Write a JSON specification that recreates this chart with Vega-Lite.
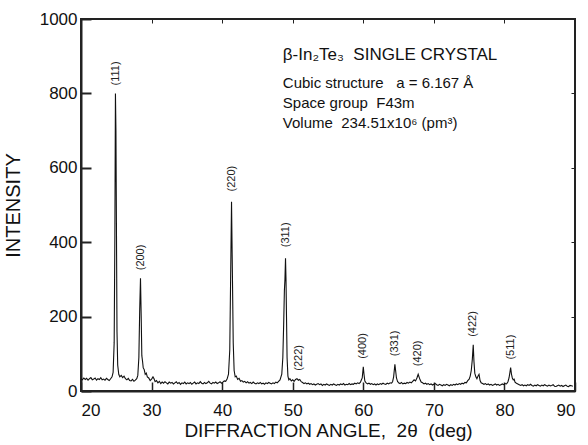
{
  "$schema": "https://vega.github.io/schema/vega-lite/v6.json",
  "width": 494,
  "height": 372,
  "autosize": "none",
  "padding": {"left": 81, "top": 19, "right": 13, "bottom": 54},
  "background": "white",
  "config": {
    "font": "Liberation Sans",
    "view": {"stroke": "#222", "strokeWidth": 2},
    "axis": {"grid": false, "domainColor": "#222", "domainWidth": 2, "tickColor": "#222", "labelColor": "#111", "titleColor": "#111", "titleFontWeight": "normal", "labelFont": "Liberation Sans", "titleFont": "Liberation Sans"}
  },
  "datasets": {
    "pattern": [
      {"angle":20.0,"intensity":33},{"angle":20.2,"intensity":30},{"angle":20.4,"intensity":35},{"angle":20.6,"intensity":31},{"angle":20.8,"intensity":34},{"angle":21.0,"intensity":29},{"angle":21.2,"intensity":33},{"angle":21.4,"intensity":36},{"angle":21.6,"intensity":30},{"angle":21.8,"intensity":32},{"angle":22.0,"intensity":35},{"angle":22.2,"intensity":29},{"angle":22.4,"intensity":33},{"angle":22.6,"intensity":31},{"angle":22.8,"intensity":36},{"angle":23.0,"intensity":30},{"angle":23.2,"intensity":32},{"angle":23.4,"intensity":29},{"angle":23.6,"intensity":34},{"angle":23.8,"intensity":31},{"angle":24.0,"intensity":28},{"angle":24.2,"intensity":33},{"angle":24.4,"intensity":38},{"angle":24.55,"intensity":50},{"angle":24.7,"intensity":130},{"angle":24.8,"intensity":420},{"angle":24.88,"intensity":800},{"angle":24.95,"intensity":700},{"angle":25.02,"intensity":450},{"angle":25.1,"intensity":160},{"angle":25.2,"intensity":70},{"angle":25.35,"intensity":45},{"angle":25.5,"intensity":38},{"angle":25.7,"intensity":42},{"angle":25.9,"intensity":36},{"angle":26.1,"intensity":40},{"angle":26.3,"intensity":33},{"angle":26.5,"intensity":30},{"angle":26.7,"intensity":34},{"angle":26.9,"intensity":28},{"angle":27.1,"intensity":27},{"angle":27.3,"intensity":31},{"angle":27.5,"intensity":26},{"angle":27.7,"intensity":29},{"angle":27.9,"intensity":33},{"angle":28.05,"intensity":42},{"angle":28.2,"intensity":90},{"angle":28.32,"intensity":220},{"angle":28.43,"intensity":303},{"angle":28.53,"intensity":200},{"angle":28.62,"intensity":95},{"angle":28.72,"intensity":80},{"angle":28.82,"intensity":62},{"angle":28.95,"intensity":58},{"angle":29.1,"intensity":45},{"angle":29.25,"intensity":48},{"angle":29.4,"intensity":38},{"angle":29.6,"intensity":35},{"angle":29.8,"intensity":28},{"angle":30.0,"intensity":32},{"angle":30.2,"intensity":38},{"angle":30.35,"intensity":33},{"angle":30.5,"intensity":25},{"angle":30.7,"intensity":28},{"angle":30.9,"intensity":22},{"angle":31.1,"intensity":26},{"angle":31.3,"intensity":20},{"angle":31.5,"intensity":24},{"angle":31.7,"intensity":21},{"angle":31.9,"intensity":25},{"angle":32.1,"intensity":22},{"angle":32.3,"intensity":19},{"angle":32.5,"intensity":24},{"angle":32.7,"intensity":21},{"angle":32.9,"intensity":23},{"angle":33.1,"intensity":19},{"angle":33.3,"intensity":22},{"angle":33.5,"intensity":25},{"angle":33.7,"intensity":20},{"angle":33.9,"intensity":23},{"angle":34.1,"intensity":18},{"angle":34.3,"intensity":22},{"angle":34.5,"intensity":20},{"angle":34.7,"intensity":24},{"angle":34.9,"intensity":19},{"angle":35.1,"intensity":22},{"angle":35.3,"intensity":20},{"angle":35.5,"intensity":23},{"angle":35.7,"intensity":18},{"angle":35.9,"intensity":21},{"angle":36.1,"intensity":24},{"angle":36.3,"intensity":19},{"angle":36.5,"intensity":22},{"angle":36.7,"intensity":20},{"angle":36.9,"intensity":25},{"angle":37.1,"intensity":21},{"angle":37.3,"intensity":19},{"angle":37.5,"intensity":23},{"angle":37.7,"intensity":20},{"angle":37.9,"intensity":22},{"angle":38.1,"intensity":26},{"angle":38.3,"intensity":21},{"angle":38.5,"intensity":19},{"angle":38.7,"intensity":23},{"angle":38.9,"intensity":21},{"angle":39.1,"intensity":24},{"angle":39.3,"intensity":20},{"angle":39.5,"intensity":22},{"angle":39.7,"intensity":25},{"angle":39.9,"intensity":21},{"angle":40.1,"intensity":24},{"angle":40.3,"intensity":27},{"angle":40.5,"intensity":26},{"angle":40.7,"intensity":32},{"angle":40.9,"intensity":45},{"angle":41.08,"intensity":110},{"angle":41.2,"intensity":300},{"angle":41.33,"intensity":509},{"angle":41.45,"intensity":320},{"angle":41.57,"intensity":130},{"angle":41.7,"intensity":55},{"angle":41.85,"intensity":38},{"angle":42.0,"intensity":40},{"angle":42.2,"intensity":31},{"angle":42.4,"intensity":34},{"angle":42.6,"intensity":26},{"angle":42.8,"intensity":28},{"angle":43.0,"intensity":24},{"angle":43.2,"intensity":26},{"angle":43.4,"intensity":22},{"angle":43.6,"intensity":25},{"angle":43.8,"intensity":21},{"angle":44.0,"intensity":23},{"angle":44.2,"intensity":20},{"angle":44.4,"intensity":24},{"angle":44.6,"intensity":21},{"angle":44.8,"intensity":19},{"angle":45.0,"intensity":22},{"angle":45.2,"intensity":20},{"angle":45.4,"intensity":23},{"angle":45.6,"intensity":19},{"angle":45.8,"intensity":21},{"angle":46.0,"intensity":18},{"angle":46.2,"intensity":22},{"angle":46.4,"intensity":20},{"angle":46.6,"intensity":23},{"angle":46.8,"intensity":21},{"angle":47.0,"intensity":19},{"angle":47.2,"intensity":22},{"angle":47.4,"intensity":20},{"angle":47.6,"intensity":24},{"angle":47.8,"intensity":22},{"angle":48.0,"intensity":26},{"angle":48.2,"intensity":30},{"angle":48.45,"intensity":45},{"angle":48.6,"intensity":90},{"angle":48.72,"intensity":180},{"angle":48.82,"intensity":270},{"angle":48.9,"intensity":300},{"angle":48.98,"intensity":357},{"angle":49.05,"intensity":300},{"angle":49.12,"intensity":200},{"angle":49.2,"intensity":90},{"angle":49.32,"intensity":40},{"angle":49.45,"intensity":30},{"angle":49.6,"intensity":33},{"angle":49.8,"intensity":27},{"angle":50.0,"intensity":30},{"angle":50.2,"intensity":26},{"angle":50.4,"intensity":31},{"angle":50.6,"intensity":33},{"angle":50.8,"intensity":29},{"angle":51.0,"intensity":31},{"angle":51.2,"intensity":25},{"angle":51.4,"intensity":23},{"angle":51.6,"intensity":20},{"angle":51.8,"intensity":22},{"angle":52.0,"intensity":19},{"angle":52.2,"intensity":21},{"angle":52.4,"intensity":18},{"angle":52.6,"intensity":20},{"angle":52.8,"intensity":17},{"angle":53.0,"intensity":19},{"angle":53.2,"intensity":16},{"angle":53.4,"intensity":18},{"angle":53.6,"intensity":20},{"angle":53.8,"intensity":17},{"angle":54.0,"intensity":19},{"angle":54.2,"intensity":15},{"angle":54.4,"intensity":18},{"angle":54.6,"intensity":16},{"angle":54.8,"intensity":19},{"angle":55.0,"intensity":17},{"angle":55.2,"intensity":15},{"angle":55.4,"intensity":18},{"angle":55.6,"intensity":16},{"angle":55.8,"intensity":19},{"angle":56.0,"intensity":17},{"angle":56.2,"intensity":15},{"angle":56.4,"intensity":18},{"angle":56.6,"intensity":16},{"angle":56.8,"intensity":19},{"angle":57.0,"intensity":17},{"angle":57.2,"intensity":20},{"angle":57.4,"intensity":16},{"angle":57.6,"intensity":18},{"angle":57.8,"intensity":17},{"angle":58.0,"intensity":20},{"angle":58.2,"intensity":17},{"angle":58.4,"intensity":19},{"angle":58.6,"intensity":18},{"angle":58.8,"intensity":21},{"angle":59.0,"intensity":19},{"angle":59.2,"intensity":22},{"angle":59.4,"intensity":20},{"angle":59.6,"intensity":24},{"angle":59.85,"intensity":35},{"angle":60.0,"intensity":65},{"angle":60.1,"intensity":45},{"angle":60.22,"intensity":27},{"angle":60.4,"intensity":22},{"angle":60.6,"intensity":19},{"angle":60.8,"intensity":21},{"angle":61.0,"intensity":18},{"angle":61.2,"intensity":20},{"angle":61.4,"intensity":17},{"angle":61.6,"intensity":19},{"angle":61.8,"intensity":16},{"angle":62.0,"intensity":19},{"angle":62.2,"intensity":17},{"angle":62.4,"intensity":20},{"angle":62.6,"intensity":18},{"angle":62.8,"intensity":21},{"angle":63.0,"intensity":19},{"angle":63.2,"intensity":18},{"angle":63.4,"intensity":21},{"angle":63.6,"intensity":19},{"angle":63.8,"intensity":22},{"angle":64.0,"intensity":21},{"angle":64.15,"intensity":25},{"angle":64.3,"intensity":38},{"angle":64.48,"intensity":72},{"angle":64.58,"intensity":55},{"angle":64.7,"intensity":35},{"angle":64.85,"intensity":26},{"angle":65.0,"intensity":22},{"angle":65.2,"intensity":20},{"angle":65.4,"intensity":23},{"angle":65.6,"intensity":19},{"angle":65.8,"intensity":21},{"angle":66.0,"intensity":20},{"angle":66.2,"intensity":23},{"angle":66.4,"intensity":21},{"angle":66.6,"intensity":24},{"angle":66.8,"intensity":22},{"angle":67.0,"intensity":26},{"angle":67.2,"intensity":30},{"angle":67.4,"intensity":27},{"angle":67.6,"intensity":35},{"angle":67.78,"intensity":45},{"angle":67.9,"intensity":38},{"angle":68.05,"intensity":30},{"angle":68.2,"intensity":24},{"angle":68.4,"intensity":22},{"angle":68.6,"intensity":19},{"angle":68.8,"intensity":21},{"angle":69.0,"intensity":18},{"angle":69.2,"intensity":20},{"angle":69.4,"intensity":17},{"angle":69.6,"intensity":19},{"angle":69.8,"intensity":16},{"angle":70.0,"intensity":18},{"angle":70.2,"intensity":20},{"angle":70.4,"intensity":17},{"angle":70.6,"intensity":15},{"angle":70.8,"intensity":18},{"angle":71.0,"intensity":16},{"angle":71.2,"intensity":14},{"angle":71.4,"intensity":17},{"angle":71.6,"intensity":15},{"angle":71.8,"intensity":18},{"angle":72.0,"intensity":16},{"angle":72.2,"intensity":14},{"angle":72.4,"intensity":17},{"angle":72.6,"intensity":15},{"angle":72.8,"intensity":18},{"angle":73.0,"intensity":16},{"angle":73.2,"intensity":19},{"angle":73.4,"intensity":17},{"angle":73.6,"intensity":20},{"angle":73.8,"intensity":18},{"angle":74.0,"intensity":21},{"angle":74.2,"intensity":19},{"angle":74.4,"intensity":23},{"angle":74.6,"intensity":22},{"angle":74.8,"intensity":28},{"angle":75.0,"intensity":32},{"angle":75.15,"intensity":40},{"angle":75.3,"intensity":55},{"angle":75.45,"intensity":85},{"angle":75.58,"intensity":124},{"angle":75.68,"intensity":80},{"angle":75.8,"intensity":48},{"angle":75.95,"intensity":38},{"angle":76.1,"intensity":33},{"angle":76.25,"intensity":40},{"angle":76.4,"intensity":45},{"angle":76.55,"intensity":28},{"angle":76.7,"intensity":22},{"angle":76.9,"intensity":20},{"angle":77.1,"intensity":18},{"angle":77.3,"intensity":20},{"angle":77.5,"intensity":17},{"angle":77.7,"intensity":19},{"angle":77.9,"intensity":16},{"angle":78.1,"intensity":18},{"angle":78.3,"intensity":15},{"angle":78.5,"intensity":17},{"angle":78.7,"intensity":19},{"angle":78.9,"intensity":16},{"angle":79.1,"intensity":18},{"angle":79.3,"intensity":15},{"angle":79.5,"intensity":17},{"angle":79.7,"intensity":19},{"angle":79.9,"intensity":17},{"angle":80.1,"intensity":20},{"angle":80.3,"intensity":19},{"angle":80.5,"intensity":25},{"angle":80.65,"intensity":35},{"angle":80.78,"intensity":50},{"angle":80.88,"intensity":63},{"angle":81.0,"intensity":45},{"angle":81.12,"intensity":35},{"angle":81.25,"intensity":30},{"angle":81.38,"intensity":32},{"angle":81.5,"intensity":24},{"angle":81.7,"intensity":21},{"angle":81.9,"intensity":19},{"angle":82.1,"intensity":17},{"angle":82.3,"intensity":15},{"angle":82.5,"intensity":17},{"angle":82.7,"intensity":14},{"angle":82.9,"intensity":16},{"angle":83.1,"intensity":14},{"angle":83.3,"intensity":17},{"angle":83.5,"intensity":15},{"angle":83.7,"intensity":18},{"angle":83.9,"intensity":15},{"angle":84.1,"intensity":13},{"angle":84.3,"intensity":16},{"angle":84.5,"intensity":14},{"angle":84.7,"intensity":17},{"angle":84.9,"intensity":15},{"angle":85.1,"intensity":13},{"angle":85.3,"intensity":16},{"angle":85.5,"intensity":14},{"angle":85.7,"intensity":17},{"angle":85.9,"intensity":15},{"angle":86.1,"intensity":13},{"angle":86.3,"intensity":16},{"angle":86.5,"intensity":14},{"angle":86.7,"intensity":15},{"angle":86.9,"intensity":17},{"angle":87.1,"intensity":13},{"angle":87.3,"intensity":12},{"angle":87.5,"intensity":14},{"angle":87.7,"intensity":16},{"angle":87.9,"intensity":13},{"angle":88.1,"intensity":15},{"angle":88.3,"intensity":12},{"angle":88.5,"intensity":14},{"angle":88.7,"intensity":16},{"angle":88.9,"intensity":13},{"angle":89.1,"intensity":12},{"angle":89.3,"intensity":15},{"angle":89.5,"intensity":14},{"angle":89.7,"intensity":13}
    ],
    "peaks": [
      {"hkl":"(111)","angle":24.9,"intensity":800},
      {"hkl":"(200)","angle":28.45,"intensity":303},
      {"hkl":"(220)","angle":41.35,"intensity":515},
      {"hkl":"(311)","angle":49.0,"intensity":365},
      {"hkl":"(222)","angle":50.9,"intensity":33},
      {"hkl":"(400)","angle":60.0,"intensity":65},
      {"hkl":"(331)","angle":64.5,"intensity":72},
      {"hkl":"(420)","angle":67.8,"intensity":45},
      {"hkl":"(422)","angle":75.6,"intensity":124},
      {"hkl":"(511)","angle":80.9,"intensity":63}
    ],
    "notes": [
      {"angle":48.6,"intensity":815,"text":"Cubic structure \u00a0 a = 6.167 Å"},
      {"angle":48.6,"intensity":761,"text":"Space group \u00a0F43m"},
      {"angle":48.6,"intensity":707,"text":"Volume \u00a0234.51x10⁶ (pm³)"}
    ],
    "heading": [
      {"angle":48.6,"intensity":890,"text":"β-In₂Te₃ \u00a0SINGLE CRYSTAL"}
    ]
  },
  "layer": [
    {
      "data": {"name": "pattern"},
      "mark": {"type": "line", "color": "#111", "strokeWidth": 1.1, "interpolate": "linear"},
      "encoding": {
        "x": {"field": "angle", "type": "quantitative", "scale": {"domain": [20, 90], "nice": false},
          "axis": {"orient": "bottom", "values": [20,30,40,50,60,70,80,90], "tickSize": -9, "tickWidth": 1.5, "labelPadding": 20, "labelFontSize": 17, "titleFontSize": 19, "titlePadding": 3, "title": "DIFFRACTION ANGLE, \u00a02θ \u00a0(deg)"}},
        "y": {"field": "intensity", "type": "quantitative", "scale": {"domain": [0, 1000], "nice": false},
          "axis": {"orient": "left", "values": [0,200,400,600,800,1000], "format": "d", "tickSize": -10, "tickWidth": 2, "labelPadding": 14, "labelFontSize": 17, "titleFontSize": 20, "titlePadding": 16, "title": "INTENSITY"}}
      }
    },
    {
      "data": {"name": "peaks"},
      "mark": {"type": "text", "angle": 270, "align": "left", "baseline": "middle", "dx": 8, "fontSize": 11, "color": "#222"},
      "encoding": {
        "x": {"field": "angle", "type": "quantitative", "axis": {"orient": "top", "values": [20,30,40,50,60,70,80,90], "labels": false, "title": null, "tickSize": -4, "domain": false}},
        "y": {"field": "intensity", "type": "quantitative", "axis": {"orient": "right", "values": [0,200,400,600,800,1000], "labels": false, "title": null, "tickSize": -4, "domain": false}},
        "text": {"field": "hkl"}
      }
    },
    {
      "data": {"name": "heading"},
      "mark": {"type": "text", "align": "left", "baseline": "alphabetic", "fontSize": 17, "color": "#111"},
      "encoding": {
        "x": {"field": "angle", "type": "quantitative", "axis": null},
        "y": {"field": "intensity", "type": "quantitative", "axis": null},
        "text": {"field": "text"}
      }
    },
    {
      "data": {"name": "notes"},
      "mark": {"type": "text", "align": "left", "baseline": "alphabetic", "fontSize": 15, "color": "#111"},
      "encoding": {
        "x": {"field": "angle", "type": "quantitative", "axis": null},
        "y": {"field": "intensity", "type": "quantitative", "axis": null},
        "text": {"field": "text"}
      }
    }
  ],
  "resolve": {"axis": {"x": "independent", "y": "independent"}}
}
